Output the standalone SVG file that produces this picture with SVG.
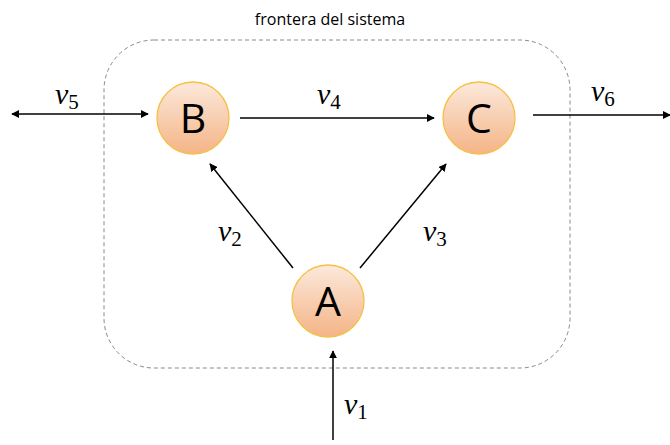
<svg xmlns="http://www.w3.org/2000/svg" width="670" height="445" viewBox="0 0 670 445">
<style>
.node circle{fill:url(#g);stroke:#f6c142;stroke-width:1.3}
.node text{font-family:"Open Sans","Liberation Sans",sans-serif;font-size:41px;fill:#000;text-anchor:middle}
.lbl{font-family:"Liberation Serif","DejaVu Serif",serif;font-style:italic;font-size:30px;fill:#000}
.sub{font-style:normal;font-size:21px}
.edge{stroke:#000;stroke-width:1.5;fill:none}
</style>
<defs>
<linearGradient id="g" x1="0" y1="0" x2="0" y2="1">
<stop offset="0" stop-color="#fce9dc"/>
<stop offset="1" stop-color="#f4b486"/>
</linearGradient>
<marker id="ah" viewBox="0 0 10 10" refX="9" refY="5" markerWidth="8" markerHeight="8" markerUnits="userSpaceOnUse" orient="auto-start-reverse">
<path d="M0,0 L10,5 L0,10 z" fill="#000"/>
</marker>
</defs>
<rect x="104" y="40" width="466" height="328" rx="50" ry="50" fill="none" stroke="#888" stroke-width="1" stroke-dasharray="4,3"/>
<text x="330" y="25" font-family="Open Sans,Liberation Sans,sans-serif" font-size="16" text-anchor="middle" fill="#000">frontera del sistema</text>
<g id="connectors">
<line class="edge" x1="12" y1="114" x2="148" y2="114" marker-start="url(#ah)" marker-end="url(#ah)"/>
<line class="edge" x1="240" y1="118" x2="434" y2="118" marker-end="url(#ah)"/>
<line class="edge" x1="533" y1="115" x2="670" y2="115" marker-end="url(#ah)"/>
<line class="edge" x1="293" y1="268" x2="210" y2="164" marker-end="url(#ah)"/>
<line class="edge" x1="360" y1="268" x2="446" y2="164" marker-end="url(#ah)"/>
<line class="edge" x1="333" y1="440" x2="333" y2="351" marker-end="url(#ah)"/>
</g>
<g id="labels">
<text class="lbl" x="55" y="104">v<tspan class="sub" dy="5">5</tspan></text>
<text class="lbl" x="317" y="104">v<tspan class="sub" dy="5">4</tspan></text>
<text class="lbl" x="591" y="101">v<tspan class="sub" dy="5">6</tspan></text>
<text class="lbl" x="218" y="241">v<tspan class="sub" dy="5">2</tspan></text>
<text class="lbl" x="423" y="241">v<tspan class="sub" dy="5">3</tspan></text>
<text class="lbl" x="344" y="414">v<tspan class="sub" dy="5">1</tspan></text>
</g>
<g id="node-B" class="node"><circle cx="193" cy="118" r="36"/><text x="193" y="133">B</text></g>
<g id="node-C" class="node"><circle cx="479" cy="118" r="36"/><text x="479" y="133">C</text></g>
<g id="node-A" class="node"><circle cx="328" cy="301" r="36"/><text x="328" y="316">A</text></g>
</svg>
